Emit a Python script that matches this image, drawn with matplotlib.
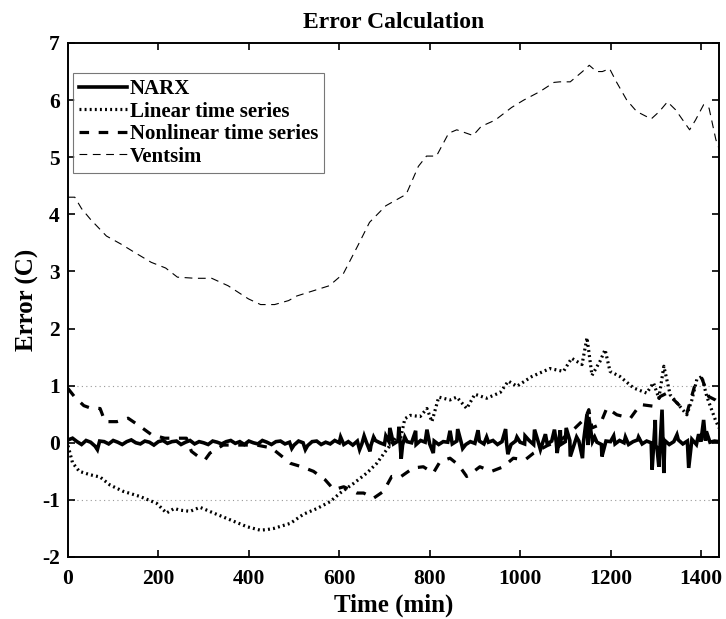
import numpy as np
import matplotlib
matplotlib.use("Agg")
import matplotlib.pyplot as plt

plt.rcParams['font.family'] = ['Liberation Serif', 'DejaVu Serif']
plt.rcParams['font.weight'] = 'bold'
plt.rcParams['axes.unicode_minus'] = False

# ---------------- data ----------------
ventsim_t = [0, 15, 30, 50, 85, 117, 148, 184, 216, 242, 282, 318, 354, 399, 426, 457,
             488, 506, 542, 578, 609, 641, 667, 703, 748, 775, 793, 815, 842, 860, 896,
             914, 945, 981, 1008, 1044, 1075, 1088, 1111, 1138, 1153, 1169, 1182, 1198,
             1213, 1236, 1258, 1290, 1308, 1326, 1344, 1375, 1388, 1406, 1418, 1433, 1440]
ventsim_v = [4.3, 4.3, 4.1, 3.91, 3.62, 3.48, 3.33, 3.16, 3.06, 2.90, 2.88, 2.88, 2.75,
             2.52, 2.42, 2.42, 2.49, 2.57, 2.66, 2.75, 2.96, 3.45, 3.86, 4.15, 4.35, 4.84,
             5.02, 5.02, 5.42, 5.48, 5.38, 5.54, 5.65, 5.87, 6.0, 6.15, 6.31, 6.32, 6.32,
             6.50, 6.61, 6.50, 6.50, 6.55, 6.32, 6.0, 5.80, 5.67, 5.80, 5.97, 5.83, 5.48,
             5.65, 5.92, 5.86, 5.31, 5.15]

linear_t = [0, 10, 25, 49, 71, 93, 122, 159, 196, 218, 235, 248, 270, 292, 322, 359, 396,
            425, 440, 455, 492, 521, 551, 580, 602, 632, 661, 683, 705, 727, 735, 745, 757,
            779, 794, 805, 820, 845, 860, 882, 900, 926, 956, 974, 993, 1026, 1066, 1096,
            1114, 1137, 1148, 1159, 1177, 1188, 1199, 1221, 1251, 1280, 1295, 1307, 1318,
            1332, 1347, 1369, 1380, 1391, 1402, 1413, 1432, 1440]
linear_v = [-0.05, -0.35, -0.5, -0.56, -0.6, -0.74, -0.85, -0.94, -1.06, -1.23, -1.15,
            -1.18, -1.2, -1.13, -1.23, -1.35, -1.47, -1.53, -1.52, -1.5, -1.41, -1.25,
            -1.15, -1.03, -0.88, -0.71, -0.53, -0.36, -0.12, 0.1, 0.05, 0.42, 0.48, 0.46,
            0.6, 0.37, 0.8, 0.75, 0.8, 0.6, 0.85, 0.78, 0.88, 1.08, 0.99, 1.16, 1.3, 1.25,
            1.48, 1.37, 1.84, 1.18, 1.43, 1.63, 1.25, 1.16, 0.96, 0.87, 1.05, 0.78, 1.34,
            0.84, 0.7, 0.49, 0.75, 1.11, 1.16, 0.81, 0.4, 0.26]

nonlin_t = [0, 15, 35, 49, 71, 82, 108, 133, 159, 185, 214, 262, 273, 288, 303, 314, 343,
            417, 450, 472, 492, 517, 543, 569, 588, 610, 639, 654, 676, 698, 716, 735, 764,
            786, 808, 823, 845, 864, 882, 893, 911, 937, 963, 985, 1011, 1030, 1060, 1090,
            1118, 1144, 1152, 1159, 1177, 1192, 1214, 1244, 1266, 1295, 1310, 1325, 1343,
            1369, 1387, 1402, 1417, 1432, 1440]
nonlin_v = [0.95, 0.8, 0.65, 0.61, 0.6, 0.37, 0.37, 0.43, 0.29, 0.14, 0.08, 0.08, -0.15,
            -0.24, -0.3, -0.18, -0.04, -0.04, -0.09, -0.23, -0.36, -0.42, -0.5, -0.65,
            -0.82, -0.77, -0.88, -0.88, -0.97, -0.85, -0.59, -0.6, -0.44, -0.42, -0.53,
            -0.33, -0.27, -0.39, -0.59, -0.53, -0.42, -0.5, -0.42, -0.27, -0.3, -0.18,
            -0.05, 0.05, 0.23, 0.43, 0.58, 0.26, 0.32, 0.61, 0.49, 0.43, 0.67, 0.64, 0.81,
            0.87, 0.73, 0.52, 1.02, 1.13, 0.81, 0.75, 0.7]

# NARX: baseline every 10 min plus individual spikes
narx_base_t = list(range(0, 1441, 10))
narx_base_v = [
    0.05, 0.08, 0.02, -0.03, 0.04, 0.01, -0.06, 0.03, 0.02, -0.02, 0.04, 0.01,
    -0.03, 0.02, 0.05, 0.00, -0.02, 0.03, 0.01, -0.04, 0.02, 0.04, -0.01, 0.02,
    0.03, -0.03, 0.01, 0.04, -0.02, 0.02, 0.00, -0.03, 0.03, 0.01, -0.02, 0.02,
    0.04, -0.01, 0.02, -0.03, 0.03, 0.00, -0.02, 0.04, 0.01, -0.03, 0.02, 0.03,
    -0.02, 0.01, -0.04, 0.03, 0.00, -0.05, 0.02, 0.03, -0.03, 0.01, -0.02, 0.04,
    0.00, -0.03, 0.02, -0.04, 0.03, -0.02, 0.01, -0.05, 0.04, 0.00, -0.03, 0.02,
    -0.02, 0.03, -0.04, 0.02, 0.00, -0.03, 0.04, 0.01, -0.02, 0.03, -0.03, 0.02,
    0.01, -0.02, 0.03, 0.00, -0.03, 0.02, -0.01, 0.03, -0.02, 0.01, 0.04, -0.03,
    0.02, 0.00, -0.03, 0.03, 0.01, -0.02, 0.04, -0.03, 0.02, 0.00, -0.02, 0.03,
    0.01, -0.03, 0.02, 0.04, -0.02, 0.03, 0.00, -0.04, 0.02, 0.01, -0.03, 0.03,
    0.02, -0.02, 0.04, 0.00, -0.03, 0.02, 0.05, -0.02, 0.03, 0.00, -0.04, 0.02,
    0.04, -0.03, 0.02, 0.05, -0.02, 0.03, 0.06, -0.03, 0.02, 0.04, 0.01, 0.03,
    0.02]
narx_spike_t = [65, 495, 525, 603, 645, 655, 668, 676, 703, 712, 732, 737, 745, 769, 794,
                808, 845, 862, 873, 907, 926, 968, 973, 993, 1011, 1032, 1045, 1056, 1076,
                1082, 1089, 1102, 1111, 1125, 1138, 1148, 1152, 1165, 1181, 1207, 1233,
                1262, 1292, 1299, 1303, 1307, 1314, 1318, 1347, 1373, 1395, 1406, 1412]
narx_spike_v = [-0.12, -0.1, -0.12, 0.1, -0.12, 0.12, -0.15, 0.1, 0.12, 0.26, 0.28, -0.28,
                0.1, 0.21, 0.23, -0.18, 0.21, 0.24, -0.1, 0.22, 0.1, 0.24, -0.2, 0.1, 0.12,
                0.23, -0.12, 0.15, 0.23, -0.18, 0.22, 0.26, -0.24, 0.1, -0.27, 0.5, 0.45,
                0.1, -0.24, 0.12, 0.1, 0.1, -0.47, 0.4, -0.1, -0.42, 0.58, -0.53, 0.14,
                -0.44, 0.15, 0.4, 0.2]

ref_levels = [1, -1]
x_ticks = [0, 200, 400, 600, 800, 1000, 1200, 1400]
y_ticks = [-2, -1, 0, 1, 2, 3, 4, 5, 6, 7]

# ---------------- plot ----------------
narx_t = np.array(narx_base_t + narx_spike_t, dtype=float)
narx_v = np.array(narx_base_v + narx_spike_v, dtype=float)
order = np.argsort(narx_t, kind='stable')
narx_t, narx_v = narx_t[order], narx_v[order]

fig = plt.figure(figsize=(7.26, 6.19), dpi=100)
ax = fig.add_axes([68 / 726, 62 / 619, 651 / 726, 514 / 619])

for lv in ref_levels:
    ax.axhline(lv, color='#999999', linestyle=(0, (1, 3)), linewidth=0.8, zorder=1)

ax.plot(narx_t, narx_v, color='black', linewidth=2.6, solid_joinstyle='miter', label='NARX', zorder=5)
ax.plot(linear_t, linear_v, color='black', linewidth=2.3, linestyle=(0, (0.6, 1.0)),
        label='Linear time series', zorder=4)
ax.plot(nonlin_t, nonlin_v, color='black', linewidth=2.3, linestyle=(0, (3.0, 3.0)),
        label='Nonlinear time series', zorder=4)
ax.plot(ventsim_t, ventsim_v, color='black', linewidth=0.8, linestyle=(0, (7, 5)),
        label='Ventsim', zorder=3)

ax.set_xlim(0, 1440)
ax.set_ylim(-2, 7)
ax.set_xticks(x_ticks)
ax.set_yticks(y_ticks)
ax.tick_params(direction='in', length=5, width=1.2, top=True, right=True,
               labelsize=15.5)
ax.tick_params(axis='x', pad=9)
ax.tick_params(axis='y', pad=6)
for lab in ax.get_xticklabels() + ax.get_yticklabels():
    lab.set_fontweight('bold')
for sp in ax.spines.values():
    sp.set_linewidth(1.4)

ax.set_title('Error Calculation', fontsize=17, fontweight='bold', pad=11)
ax.set_xlabel('Time (min)', fontsize=18, fontweight='bold', labelpad=3)
ax.set_ylabel('Error (C)', fontsize=18, fontweight='bold', labelpad=2)

leg = ax.legend(loc='upper left', bbox_to_anchor=(0.007, 0.942),
                handlelength=2.3, handletextpad=0.15, labelspacing=0.12,
                borderpad=0.3, borderaxespad=0.0, frameon=True, fancybox=False,
                prop={'weight': 'bold', 'size': 15})
leg.get_frame().set_edgecolor('#555555')
leg.get_frame().set_linewidth(0.8)

fig.savefig('out.png', dpi=100)
